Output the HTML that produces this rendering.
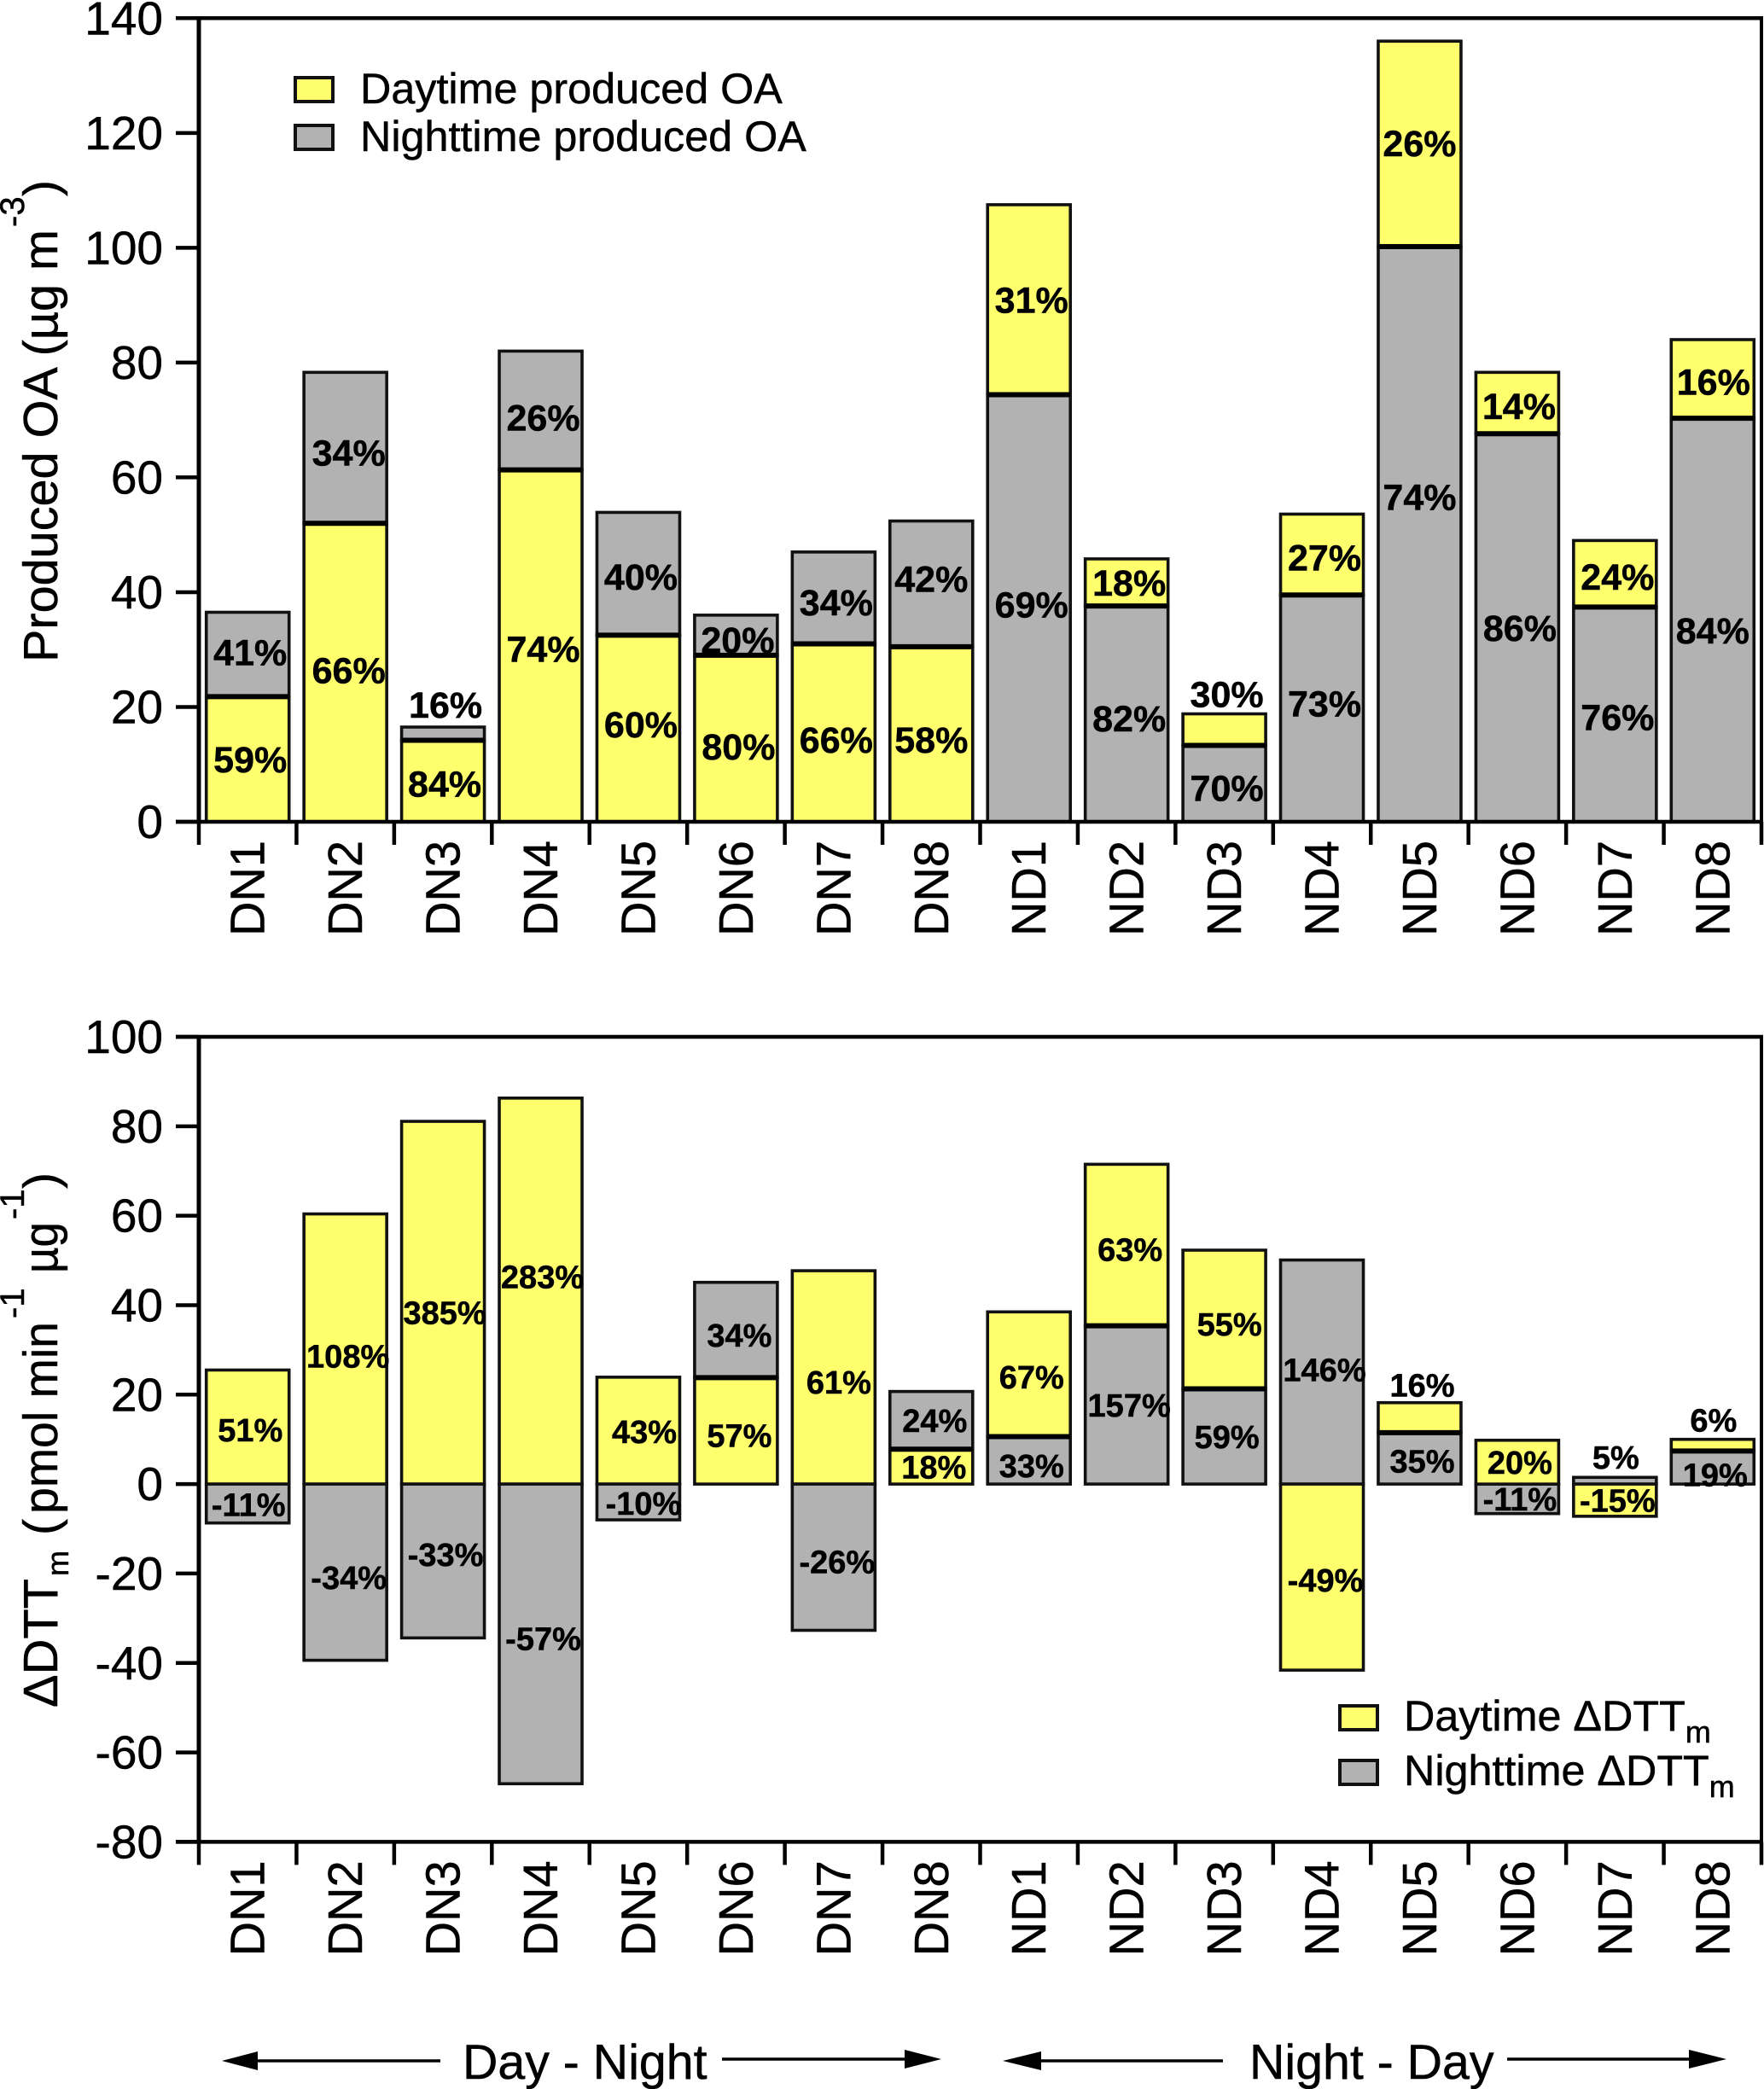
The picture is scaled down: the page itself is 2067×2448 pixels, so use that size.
<!DOCTYPE html>
<html lang="en">
<head>
<meta charset="utf-8">
<title>Produced OA and DTT change</title>
<style>
html,body{margin:0;padding:0;background:#fff;}
svg{display:block;font-family:"Liberation Sans",Arial,sans-serif;fill:#000;}
svg text{stroke:#000;stroke-width:.5px;}
</style>
</head>
<body>
<svg id="chart" xmlns="http://www.w3.org/2000/svg" width="2067" height="2448" viewBox="0 0 2067 2448">
  <rect x="0" y="0" width="2067" height="2448" fill="#fff" stroke="none"/>
  <g id="top-panel"></g>
  <g id="bottom-panel"></g>

  <g>
    <text transform="translate(67,776) rotate(-90)" font-size="57" textLength="507" lengthAdjust="spacingAndGlyphs">Produced OA (µg m</text>
    <text transform="translate(28,266) rotate(-90)" font-size="40">-3</text>
    <text transform="translate(67,230) rotate(-90)" font-size="57">)</text>
  </g>

  <g>
    <text transform="translate(67,2001) rotate(-90)" font-size="57" textLength="151" lengthAdjust="spacingAndGlyphs">ΔDTT</text>
    <text transform="translate(80,1847) rotate(-90)" font-size="36">m</text>
    <text transform="translate(67,1799) rotate(-90)" font-size="57">(</text>
    <text transform="translate(67,1774) rotate(-90)" font-size="57" textLength="225" lengthAdjust="spacingAndGlyphs">pmol min</text>
    <text transform="translate(28,1545) rotate(-90)" font-size="40">-1</text>
    <text transform="translate(67,1492) rotate(-90)" font-size="57" textLength="60" lengthAdjust="spacingAndGlyphs">µg</text>
    <text transform="translate(28,1429) rotate(-90)" font-size="40">-1</text>
    <text transform="translate(67,1393) rotate(-90)" font-size="57">)</text>
  </g>

  <g>
    <rect x="346" y="91" width="44" height="28" fill="#ffff6e" stroke="#111" stroke-width="4"/>
    <text x="422" y="121" font-size="50.3">Daytime produced OA</text>
    <rect x="346" y="147" width="44" height="28" fill="#b2b2b2" stroke="#111" stroke-width="4"/>
    <text x="422" y="177" font-size="50.3">Nighttime produced OA</text>
  </g>

  <g>
    <rect x="1570" y="1999" width="44" height="28" fill="#ffff6e" stroke="#111" stroke-width="4"/>
    <text x="1645" y="2028" font-size="50.3">Daytime ΔDTT<tspan font-size="36" dy="14">m</tspan></text>
    <rect x="1570" y="2063" width="44" height="28" fill="#b2b2b2" stroke="#111" stroke-width="4"/>
    <text x="1645" y="2092" font-size="50.3">Nighttime ΔDTT<tspan font-size="36" dy="14">m</tspan></text>
  </g>

  <g>
    <line x1="300" y1="2415" x2="516" y2="2415" stroke="#000" stroke-width="3.5"/>
    <polygon points="260,2415 302,2404 302,2426" fill="#000"/>
    <text x="542" y="2436" font-size="57.3">Day - Night</text>
    <line x1="846" y1="2413" x2="1062" y2="2413" stroke="#000" stroke-width="3.5"/>
    <polygon points="1103,2413 1060,2402 1060,2424" fill="#000"/>
  </g>

  <g>
    <line x1="1218" y1="2415" x2="1433" y2="2415" stroke="#000" stroke-width="3.5"/>
    <polygon points="1175,2415 1220,2404 1220,2426" fill="#000"/>
    <text x="1464" y="2436" font-size="57.3">Night - Day</text>
    <line x1="1766" y1="2413" x2="1981" y2="2413" stroke="#000" stroke-width="3.5"/>
    <polygon points="2023,2413 1979,2402 1979,2424" fill="#000"/>
  </g>
</svg>

<script>
const categories = ['DN1','DN2','DN3','DN4','DN5','DN6','DN7','DN8','ND1','ND2','ND3','ND4','ND5','ND6','ND7','ND8'];

const oaTicks = [0,20,40,60,80,100,120,140];
const oaDay = [21.8,52,14.2,61.3,32.5,29,31,30.5,33.1,8.2,5.5,14.1,35.8,10.7,11.6,13.7];
const oaNight = [14.7,26.3,2.3,20.7,21.4,7,16,21.9,74.4,37.6,13.3,39.5,100.2,67.6,37.4,70.3];
const oaDayPct = ['59%','66%','84%','74%','60%','80%','66%','58%','31%','18%','30%','27%','26%','14%','24%','16%'];
const oaNightPct = ['41%','34%','16%','26%','40%','20%','34%','42%','69%','82%','70%','73%','74%','86%','76%','84%'];

const dttTicks = [-80,-60,-40,-20,0,20,40,60,80,100];
const dttDay = [25.5,60.4,81.1,86.3,23.9,23.8,47.7,7.8,27.9,36.1,31,-41.6,6.7,9.8,-7.2,2.6];
const dttNight = [-8.7,-39.4,-34.4,-67,-8,21.3,-32.7,12.9,10.6,35.4,21.3,50.1,11.5,-6.6,1.5,7.4];
const dttDayPct = ['51%','108%','385%','283%','43%','57%','61%','18%','67%','63%','55%','-49%','16%','20%','-15%','6%'];
const dttNightPct = ['-11%','-34%','-33%','-57%','-10%','34%','-26%','24%','33%','157%','59%','146%','35%','-11%','5%','19%'];

const SVG_NS = 'http://www.w3.org/2000/svg';
const YELLOW = '#ffff6e';
const GRAY = '#b2b2b2';
const INK = '#000';
const AXIS_LEFT = 233;
const AXIS_RIGHT = 2064;

// Hand placement of individual percent annotations relative to the segment centre.
const labelShift = {
  'oa-dn1-night': [0,-3], 'oa-dn2-night': [1,5], 'oa-dn2-day': [1,-3], 'oa-dn3-night': [0,-3], 'oa-dn3-day': [-1,3],
  'oa-dn4-night': [0,8], 'oa-dn4-day': [0,3], 'oa-dn5-night': [0,3], 'oa-dn5-day': [0,-5], 'oa-dn6-night': [-1,5],
  'oa-dn6-day': [0,9], 'oa-dn7-night': [0,5], 'oa-dn7-day': [0,8], 'oa-dn8-night': [-3,-6], 'oa-dn8-day': [-3,6],
  'oa-nd1-night': [0,-5], 'oa-nd2-night': [0,5], 'oa-nd3-night': [0,5], 'oa-nd4-day': [0,3], 'oa-nd4-night': [0,-6],
  'oa-nd5-night': [-3,-44], 'oa-nd5-day': [-3,-1], 'oa-nd6-day': [-1,3], 'oa-nd7-day': [0,3], 'oa-nd7-night': [0,3],
  'oa-nd8-day': [-2,3], 'oa-nd8-night': [-3,12],
  'dtt-dn1-day': [0,3], 'dtt-dn1-night': [-2,1], 'dtt-dn2-day': [0,8], 'dtt-dn2-night': [1,6], 'dtt-dn3-day': [-1,11],
  'dtt-dn3-night': [0,-8], 'dtt-dn4-day': [-1,-17], 'dtt-dn4-night': [0,5], 'dtt-dn5-day': [4,1], 'dtt-dn5-night': [3,1],
  'dtt-dn6-night': [1,6], 'dtt-dn6-day': [1,5], 'dtt-dn7-day': [3,5], 'dtt-dn7-night': [1,5], 'dtt-dn8-night': [1,0],
  'dtt-nd1-day': [0,3], 'dtt-nd1-night': [0,6], 'dtt-nd2-day': [1,5], 'dtt-nd3-day': [3,5], 'dtt-nd4-night': [0,-3],
  'dtt-nd4-day': [1,3], 'dtt-nd5-day': [0,-3], 'dtt-nd5-night': [0,3], 'dtt-nd7-night': [-2,-6], 'dtt-nd8-day': [-2,-5],
  'dtt-nd8-night': [0,8]
};

function xBand(i) {
  return AXIS_LEFT + (AXIS_RIGHT - AXIS_LEFT) * i / categories.length;
}
function xCenter(i) {
  return xBand(i + 0.5);
}
function linear(d0, d1, r0, r1) {
  return function (v) {
    return r0 + (v - d0) * (r1 - r0) / (d1 - d0);
  };
}

function make(tag, parent) {
  const el = document.createElementNS(SVG_NS, tag);
  parent.appendChild(el);
  return el;
}

function line(parent, name, x1, y1, x2, y2, width) {
  const el = make('line', parent);
  
  
  el.setAttribute('x1', x1);
  el.setAttribute('y1', y1);
  el.setAttribute('x2', x2);
  el.setAttribute('y2', y2);
  el.setAttribute('stroke', INK);
  el.setAttribute('stroke-width', width);
  return el;
}

function drawPanel(cfg) {
  const g = document.getElementById(cfg.id);
  const y = linear(cfg.domain[0], cfg.domain[1], cfg.range[0], cfg.range[1]);
  const yBase = cfg.range[0];
  const yTop = cfg.range[1];

  const marks = make('g', g);
  
  
  const labels = make('g', g);
  
  

  categories.forEach(function (cat, i) {
    const dayFirst = cat.indexOf('DN') === 0;
    const parts = [
      { kind: 'day', value: cfg.day[i], pct: cfg.dayPct[i], fill: YELLOW },
      { kind: 'night', value: cfg.night[i], pct: cfg.nightPct[i], fill: GRAY }
    ];
    if (!dayFirst) parts.reverse();

    const cx = xCenter(i);
    let posBase = 0;
    let negBase = 0;
    let positives = 0;
    const segs = parts.map(function (p) {
      let from, to;
      if (p.value >= 0) {
        from = posBase;
        to = posBase + p.value;
        posBase = to;
        positives += 1;
      } else {
        from = negBase;
        to = negBase + p.value;
        negBase = to;
      }
      return { kind: p.kind, value: p.value, pct: p.pct, fill: p.fill, from: from, to: to };
    });

    segs.forEach(function (s) {
      const a = y(Math.max(s.from, s.to));
      const b = y(Math.min(s.from, s.to));
      const r = make('rect', marks);
      
      
      r.setAttribute('x', cx - 48.5);
      r.setAttribute('y', a);
      r.setAttribute('width', 97);
      r.setAttribute('height', Math.max(b - a, 0));
      r.setAttribute('fill', s.fill);
      r.setAttribute('stroke', '#111');
      r.setAttribute('stroke-width', 3.6);
    });

    if (positives === 2) {
      line(marks, cfg.prefix + '-divider-' + cat.toLowerCase(), cx - 48, y(segs[0].to), cx + 48, y(segs[0].to), 6);
    }

    segs.forEach(function (s) {
      const isTopPositive = s.value >= 0 && s.to === posBase;
      const small = isTopPositive && s.value < cfg.insideMin;
      const key = cfg.prefix + '-' + cat.toLowerCase() + '-' + s.kind;
      const shift = labelShift[key] || [0, 0];
      const t = make('text', labels);
      
      
      t.setAttribute('text-anchor', 'middle');
      t.setAttribute('font-weight', 'bold');
      t.setAttribute('font-size', cfg.labelSize);
      t.setAttribute('x', cx + 3 + shift[0]);
      if (small) {
        t.setAttribute('y', y(s.to) - cfg.aboveGap + shift[1]);
      } else {
        t.setAttribute('y', y((s.from + s.to) / 2) + cfg.labelSize * 0.36 + shift[1]);
      }
      t.textContent = s.pct;
    });
  });

  // frame
  line(g, cfg.prefix + '-frame-top', AXIS_LEFT - 27, yTop, AXIS_RIGHT + 2, yTop, 4.5);
  line(g, cfg.prefix + '-frame-right', AXIS_RIGHT, yTop, AXIS_RIGHT, yBase, 4);
  line(g, cfg.prefix + '-y-axis', AXIS_LEFT, yTop, AXIS_LEFT, yBase, 5);
  line(g, cfg.prefix + '-x-axis', AXIS_LEFT - 27, yBase, AXIS_RIGHT + 2, yBase, 4.5);

  // y ticks
  cfg.ticks.forEach(function (tv) {
    line(g, cfg.prefix + '-y-tick-' + tv, AXIS_LEFT - 27, y(tv), AXIS_LEFT, y(tv), 4.5);
    const t = make('text', g);
    
    
    t.setAttribute('x', 191);
    t.setAttribute('y', y(tv) + 19);
    t.setAttribute('text-anchor', 'end');
    t.setAttribute('font-size', 55);
    t.textContent = String(tv);
  });

  // x ticks + category labels
  for (let i = 0; i <= categories.length; i++) {
    line(g, cfg.prefix + '-x-tick-' + i, xBand(i), yBase, xBand(i), yBase + 27, 4.5);
  }
  categories.forEach(function (cat, i) {
    const t = make('text', g);
    
    
    t.setAttribute('transform', 'translate(' + (xCenter(i) + 19.5) + ',' + (yBase + 134) + ') rotate(-90)');
    t.setAttribute('font-size', 57);
    t.setAttribute('textLength', 112);
    t.setAttribute('lengthAdjust', 'spacingAndGlyphs');
    t.textContent = cat;
  });
}

drawPanel({
  id: 'top-panel', prefix: 'oa', ticks: oaTicks,
  domain: [0, 140], range: [963, 21.3],
  day: oaDay, night: oaNight, dayPct: oaDayPct, nightPct: oaNightPct,
  labelSize: 43, insideMin: 6, aboveGap: 8
});
drawPanel({
  id: 'bottom-panel', prefix: 'dtt', ticks: dttTicks,
  domain: [-80, 100], range: [2158.4, 1215],
  day: dttDay, night: dttNight, dayPct: dttDayPct, nightPct: dttNightPct,
  labelSize: 38, insideMin: 7, aboveGap: 4
});
</script>
</body>
</html>
